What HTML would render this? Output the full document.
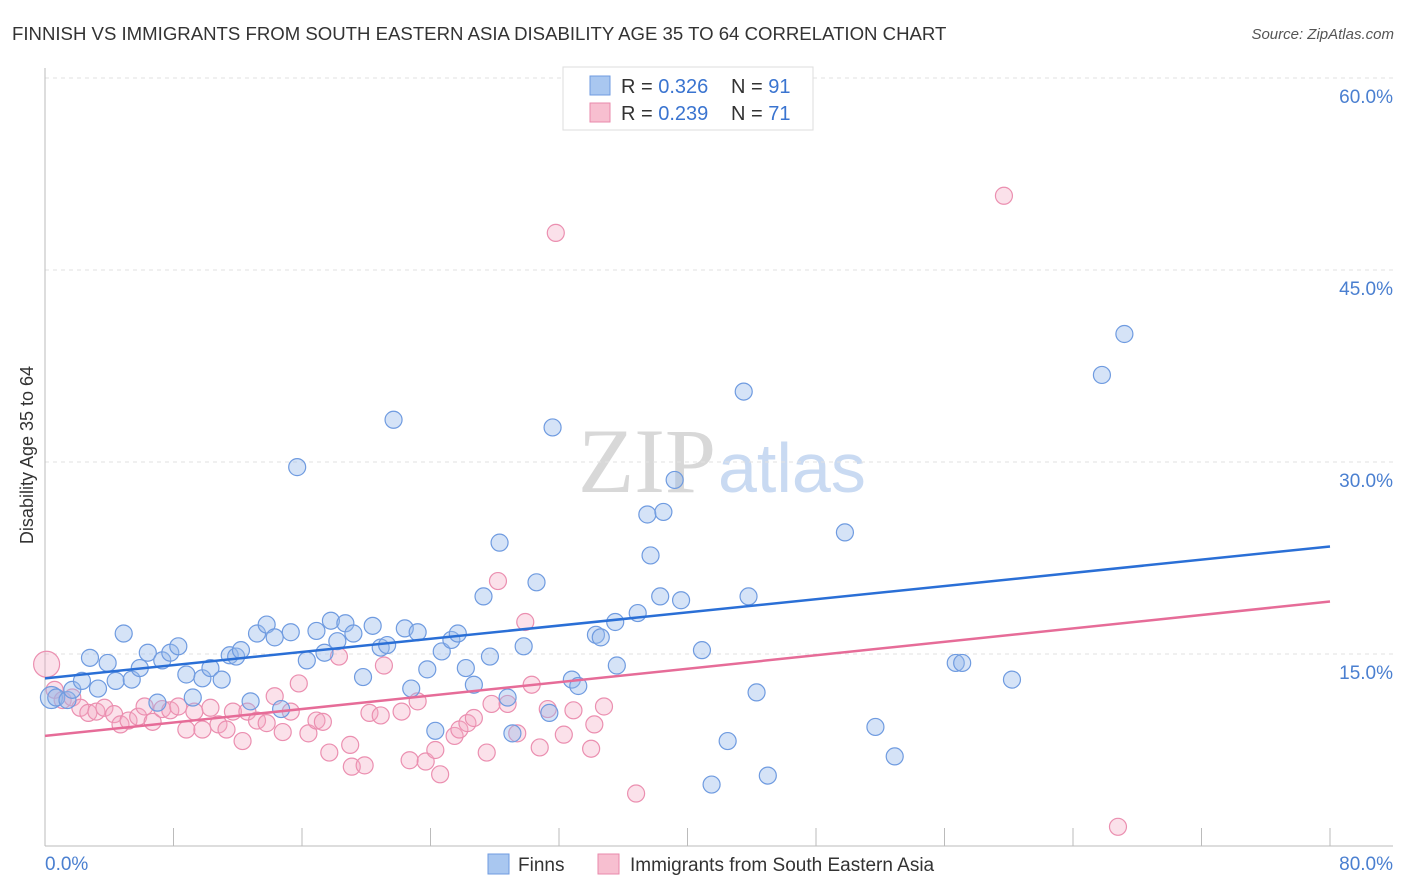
<!DOCTYPE html>
<html><head><meta charset="utf-8"><style>
body{margin:0;background:#fff;font-family:"Liberation Sans",sans-serif}
svg{display:block}
</style></head><body>
<svg id="c" width="1406" height="892" xmlns="http://www.w3.org/2000/svg">
<text x="12" y="40" font-size="18.6" fill="#333">FINNISH VS IMMIGRANTS FROM SOUTH EASTERN ASIA DISABILITY AGE 35 TO 64 CORRELATION CHART</text>
<text x="1394" y="39" font-size="15" font-style="italic" fill="#555" text-anchor="end">Source: ZipAtlas.com</text>
<text x="716" y="492" font-size="92" fill="#d8d8d8" text-anchor="end" font-family="Liberation Serif">ZIP</text>
<text x="718" y="492" font-size="70" fill="#c9daf2">atlas</text>
<text transform="translate(33,455) rotate(-90)" font-size="18" fill="#333" text-anchor="middle">Disability Age 35 to 64</text>
<g id="grid"></g><g id="pts"></g><g id="lines"></g>
<g>
<rect x="563" y="67" width="250" height="63" fill="#fff" stroke="#ddd"/>
<rect x="590" y="76" width="20" height="19" fill="#a9c7f0" stroke="#6f9be0"/>
<text x="621" y="93" font-size="20" fill="#333">R = <tspan fill="#3a74d0">0.326</tspan></text>
<text x="731" y="93" font-size="20" fill="#333">N = <tspan fill="#3a74d0">91</tspan></text>
<rect x="590" y="103" width="20" height="19" fill="#f7bfd0" stroke="#e98aab"/>
<text x="621" y="120" font-size="20" fill="#333">R = <tspan fill="#3a74d0">0.239</tspan></text>
<text x="731" y="120" font-size="20" fill="#333">N = <tspan fill="#3a74d0">71</tspan></text>
</g>
<g>
<rect x="488" y="854" width="21" height="20" fill="#a9c7f0" stroke="#6f9be0"/>
<text x="518" y="871" font-size="19" fill="#333">Finns</text>
<rect x="598" y="854" width="21" height="20" fill="#f7bfd0" stroke="#e98aab"/>
<text x="630" y="871" font-size="19" fill="#333">Immigrants from South Eastern Asia</text>
</g>
</svg>
<script>
const yTicks=[15,30,45,60];
const xTickLabels=["0.0%","80.0%"];
const finnsX=[0.4,0.7,1.4,1.7,2.3,2.8,3.3,3.9,4.4,4.9,5.4,5.9,6.4,7.0,7.3,7.8,8.3,8.8,9.2,9.8,10.3,11.0,11.5,11.9,12.2,12.8,13.2,13.8,14.3,14.7,15.3,15.7,16.3,16.9,17.4,17.8,18.2,18.7,19.2,19.8,20.4,20.9,21.3,21.7,22.4,22.8,23.2,23.8,24.3,24.7,25.3,25.7,26.2,26.7,27.3,27.7,28.3,28.8,29.1,29.8,30.6,31.4,31.6,32.8,33.2,34.3,34.6,35.5,35.6,36.9,37.5,37.7,38.3,38.5,39.2,39.6,40.9,41.5,42.5,43.5,43.8,44.3,45.0,49.8,51.7,52.9,56.7,57.1,60.2,65.8,67.2];
const finnsY=[11.6,11.6,11.4,12.2,12.9,14.7,12.3,14.3,12.9,16.6,13.0,13.9,15.1,11.2,14.5,15.1,15.6,13.4,11.6,13.1,13.9,13.0,14.9,14.8,15.3,11.3,16.6,17.3,16.3,10.7,16.7,29.6,14.5,16.8,15.1,17.6,16.0,17.4,16.6,13.2,17.2,15.5,15.7,33.3,17.0,12.3,16.7,13.8,9.0,15.2,16.1,16.6,13.9,12.6,19.5,14.8,23.7,11.6,8.8,15.6,20.6,10.4,32.7,13.0,12.5,16.5,16.3,17.5,14.1,18.2,25.9,22.7,19.5,26.1,28.6,19.2,15.3,4.8,8.2,35.5,19.5,12.0,5.5,24.5,9.3,7.0,14.3,14.3,13.0,36.8,40.0];
const seaX=[0.1,0.6,1.1,1.7,2.2,2.7,3.2,3.7,4.3,4.7,5.2,5.8,6.2,6.7,7.3,7.8,8.3,8.8,9.3,9.8,10.3,10.8,11.3,11.7,12.3,12.6,13.2,13.8,14.3,14.8,15.3,15.8,16.4,16.9,17.3,17.7,18.3,19.0,19.1,19.9,20.2,20.9,21.1,22.2,22.7,23.2,23.7,24.3,24.6,25.5,25.8,26.3,26.7,27.5,27.8,28.2,28.8,29.4,29.9,30.3,30.8,31.3,31.8,32.3,32.9,34.0,34.2,34.8,36.8,59.7,66.8];
const seaY=[14.2,12.2,11.4,11.6,10.8,10.4,10.5,10.8,10.3,9.5,9.8,10.1,10.9,9.7,10.7,10.6,10.9,9.1,10.5,9.1,10.8,9.5,9.1,10.5,8.2,10.5,9.8,9.6,11.7,8.9,10.5,12.7,8.8,9.8,9.7,7.3,14.8,7.9,6.2,6.3,10.4,10.2,14.1,10.5,6.7,11.3,6.6,7.5,5.6,8.6,9.1,9.6,10.0,7.3,11.1,20.7,11.1,8.8,17.5,12.6,7.7,10.7,47.9,8.7,10.6,7.6,9.5,10.9,4.1,50.8,1.5];
const finnsTrend=[13.1,23.4];
const seaTrend=[8.6,19.1];
const NS='http://www.w3.org/2000/svg';
const X=v=>45+v*1285/80, Y=v=>846-v*12.8;
function mk(t,a,p){const e=document.createElementNS(NS,t);for(const k in a)e.setAttribute(k,a[k]);p.appendChild(e);return e;}
const grid=document.getElementById('grid');
yTicks.forEach(t=>{const l=mk('line',{x1:45,x2:1393,y1:Y(t),y2:Y(t),stroke:'#e2e2e2','stroke-dasharray':'4,4'},grid);


const tx=mk('text',{x:1393,y:Y(t)+25,'font-size':19,fill:'#4a7fd0','text-anchor':'end'},grid);tx.textContent=t.toFixed(1)+'%';

});
const ax=mk('line',{x1:45,x2:45,y1:68,y2:846,stroke:'#bbb'},grid);


const bx=mk('line',{x1:45,x2:1393,y1:846,y2:846,stroke:'#bbb'},grid);


for(let i=0;i<=10;i++){const t=mk('line',{x1:X(i*8),x2:X(i*8),y1:828,y2:846,stroke:'#bbb'},grid);

}
const l0=mk('text',{x:45,y:870,'font-size':19,fill:'#4a7fd0'},grid);l0.textContent=xTickLabels[0];


const l1=mk('text',{x:1393,y:870,'font-size':19,fill:'#4a7fd0','text-anchor':'end'},grid);l1.textContent=xTickLabels[1];


const pts=document.getElementById('pts');
seaX.forEach((x,i)=>{const c=mk('circle',{cx:X(x),cy:Y(seaY[i]),r:i==0?13:8.5,fill:'rgba(244,170,195,0.35)',stroke:'#eb8fb0','stroke-width':1.2},pts);

});
finnsX.forEach((x,i)=>{const c=mk('circle',{cx:X(x),cy:Y(finnsY[i]),r:i==0?11:8.5,fill:'rgba(150,185,235,0.4)',stroke:'#6f9be0','stroke-width':1.2},pts);

});
const lines=document.getElementById('lines');
const f=mk('line',{x1:X(0),x2:X(80),y1:Y(finnsTrend[0]),y2:Y(finnsTrend[1]),stroke:'#2a6fd6','stroke-width':2.5},lines);


const s=mk('line',{x1:X(0),x2:X(80),y1:Y(seaTrend[0]),y2:Y(seaTrend[1]),stroke:'#e66c98','stroke-width':2.5},lines);


</script>
</body></html>
